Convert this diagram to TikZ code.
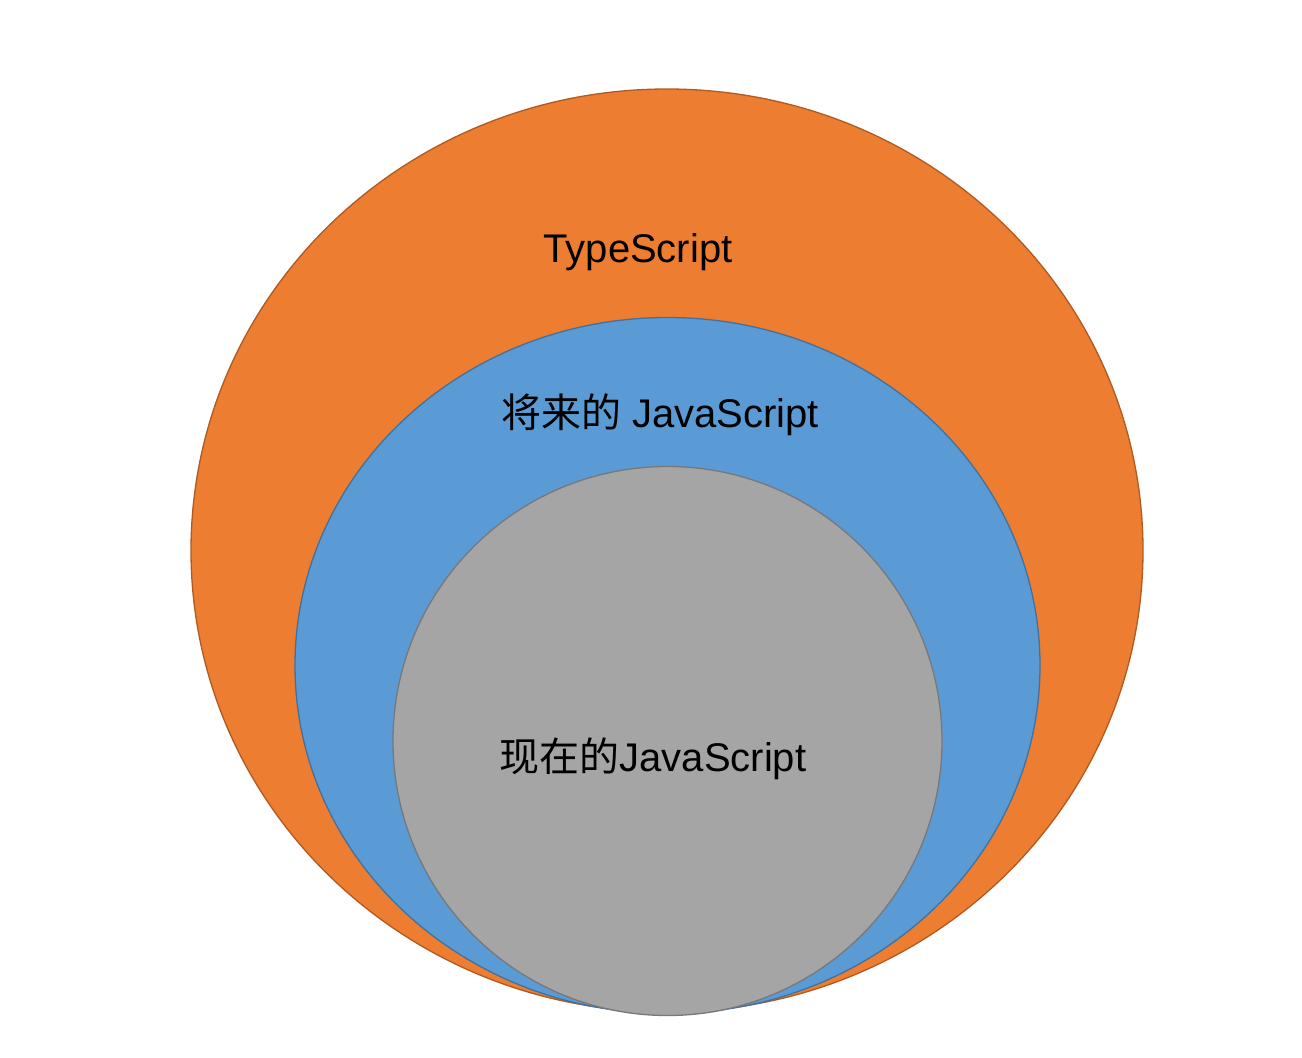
\documentclass[tikz,border=0pt]{standalone}
\usepackage{fontspec}
\setmainfont{Liberation Sans}
\newfontfamily\cjk{Noto Sans CJK SC}
\definecolor{tsorange}{HTML}{ED7D31}
\definecolor{tsorangeline}{HTML}{AE5A21}
\definecolor{jsblue}{HTML}{5B9BD5}
\definecolor{jsblueline}{HTML}{41719C}
\definecolor{jsgray}{HTML}{A5A5A5}
\definecolor{jsgrayline}{HTML}{787878}
\begin{document}
\begin{tikzpicture}[x=1pt, y=-1pt,
    label text/.style={anchor=base, inner sep=0pt, font=\fontsize{40}{48}\selectfont}]
    \useasboundingbox (0,0) rectangle (1302,1058);

    % Cerchi
    \draw[line width=1.3pt, draw=tsorangeline, fill=tsorange] (667,550.5) ellipse [x radius=476, y radius=461.5];
    \draw[line width=1.3pt, draw=jsblueline, fill=jsblue] (667.5,665.5) ellipse [x radius=372.5, y radius=348];
    \draw[line width=1.3pt, draw=jsgrayline, fill=jsgray] (667.5,741) circle [radius=274.5];

    % Etichette
    \node[label text] (ts) at (638,262) {TypeScript};
    \node[label text] (future) at (660,427) {{\cjk 将来的} JavaScript};
    \node[label text] (now) at (653,771) {{\cjk 现在的}JavaScript};
\end{tikzpicture}
\end{document}
